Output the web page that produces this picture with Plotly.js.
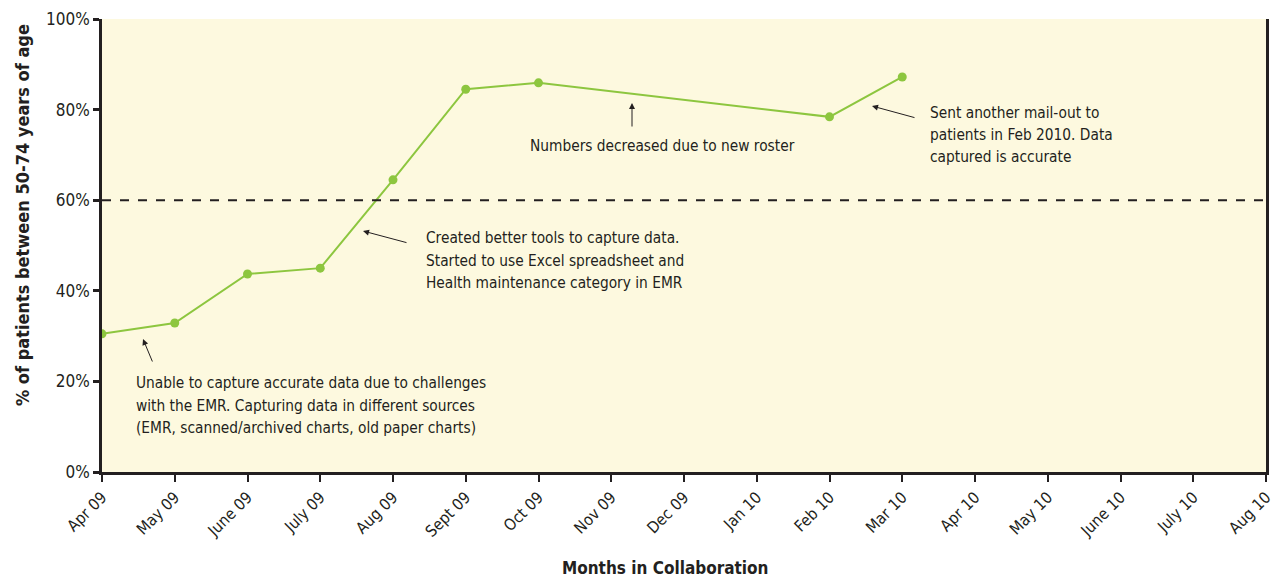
<!DOCTYPE html>
<html>
<head>
<meta charset="utf-8">
<script src="https://cdn.plot.ly/plotly-3.0.1.min.js"></script>
<style>html,body{margin:0;padding:0;background:#fff;}#chart{width:1282px;height:581px;}</style>
</head>
<body>
<div id="chart"></div>
<script>
var months = ["Apr 09","May 09","June 09","July 09","Aug 09","Sept 09","Oct 09","Nov 09","Dec 09","Jan 10","Feb 10","Mar 10","Apr 10","May 10","June 10","July 10","Aug 10"];
var percentPatients = [30.5, 32.9, 43.7, 45.0, 64.5, 84.5, 85.9, null, null, null, 78.4, 87.2, null, null, null, null, null];
var targetLine = 60;
var yTickVals = [0, 20, 40, 60, 80, 100];
var yTickText = ["0%", "20%", "40%", "60%", "80%", "100%"];
var note1Lines = ["Unable to capture accurate data due to challenges", "with the EMR. Capturing data in different sources", "(EMR, scanned/archived charts, old paper charts)"];
var note2Lines = ["Created better tools to capture data.", "Started to use Excel spreadsheet and", "Health maintenance category in EMR"];
var note3Text = "Numbers decreased due to new roster";
var note4Lines = ["Sent another mail-out to", "patients in Feb 2010. Data", "captured is accurate"];

var FONT = "'Liberation Sans Narrow', 'DejaVu Sans Condensed', 'Roboto Condensed', sans-serif";
var TXT = "#231f20";

var trace = {
  x: months,
  y: percentPatients,
  type: "scatter",
  mode: "lines+markers",
  connectgaps: true,
  line: {color: "#8dc63f", width: 2},
  marker: {color: "#8dc63f", size: 9},
  hoverinfo: "x+y"
};

function px2paper(px) { return (px - 102) / (1266 - 102); }
function py2paper(py) { return (472 - py) / (472 - 19); }
function noteLines(lines, px, pyFirst, step) {
  return lines.map(function (t, i) {
    return {xref: "paper", yref: "paper", x: px2paper(px), y: py2paper(pyFirst + i * step), text: t,
      showarrow: false, xanchor: "left", yanchor: "middle", align: "left",
      font: {family: FONT, size: 15.3, color: TXT}};
  });
}
function arrow(x, y, ax, ay) {
  return {x: x, y: y, xref: "x", yref: "y", text: "", showarrow: true,
    ax: ax, ay: ay, arrowhead: 2, arrowsize: 1.2, arrowwidth: 1, arrowcolor: TXT};
}

var annotations = [
  {xref: "paper", yref: "paper", x: px2paper(22), y: py2paper(215), text: "<b>% of patients between 50-74 years of age</b>",
   showarrow: false, textangle: -90, xanchor: "center", yanchor: "middle",
   font: {family: FONT, size: 18, color: TXT}},
  {xref: "paper", yref: "paper", x: px2paper(665), y: py2paper(568), text: "<b>Months in Collaboration</b>",
   showarrow: false, xanchor: "center", yanchor: "middle",
   font: {family: FONT, size: 17, color: TXT}},
  {xref: "paper", yref: "paper", x: px2paper(662), y: py2paper(146), text: note3Text,
   showarrow: false, xanchor: "center", yanchor: "middle", font: {family: FONT, size: 15.3, color: TXT}},
  arrow((143 - 102) / 72.75, (472 - 339) / 4.53, 10, 24),
  arrow((363 - 102) / 72.75, (472 - 231) / 4.53, 45, 12),
  arrow((632 - 102) / 72.75, (472 - 103) / 4.53, 0, 25),
  arrow((872 - 102) / 72.75, (472 - 106) / 4.53, 44, 12)
].concat(noteLines(note1Lines, 134, 383, 22.5))
 .concat(noteLines(note2Lines, 424, 238, 22.5))
 .concat(noteLines(note4Lines, 928, 113, 22));

var layout = {
  width: 1282, height: 581,
  margin: {l: 102, r: 16, t: 19, b: 109},
  paper_bgcolor: "#ffffff",
  plot_bgcolor: "#fdf9df",
  showlegend: false,
  font: {family: FONT, size: 16, color: TXT},
  xaxis: {
    type: "category",
    range: [0, 16],
    tickangle: -45,
    ticks: "outside", ticklen: 7, tickwidth: 2, tickcolor: "#231f20",
    showline: true, linecolor: "#231f20", linewidth: 2.5,
    showgrid: false, zeroline: false,
    tickfont: {family: FONT, size: 16, color: TXT}
  },
  yaxis: {
    range: [0, 100],
    tickvals: yTickVals, ticktext: yTickText,
    ticks: "outside", ticklen: 6, tickwidth: 2.5, tickcolor: "#231f20",
    showline: true, linecolor: "#231f20", linewidth: 2.5, mirror: true,
    showgrid: false, zeroline: false,
    tickfont: {family: FONT, size: 17, color: TXT}
  },
  shapes: [
    {type: "line", xref: "paper", yref: "y", x0: 0, x1: 1, y0: targetLine, y1: targetLine,
     line: {color: "#231f20", width: 2, dash: "dash"}}
  ],
  annotations: annotations
};

Plotly.newPlot("chart", [trace], layout, {displayModeBar: false});
</script>
</body>
</html>
